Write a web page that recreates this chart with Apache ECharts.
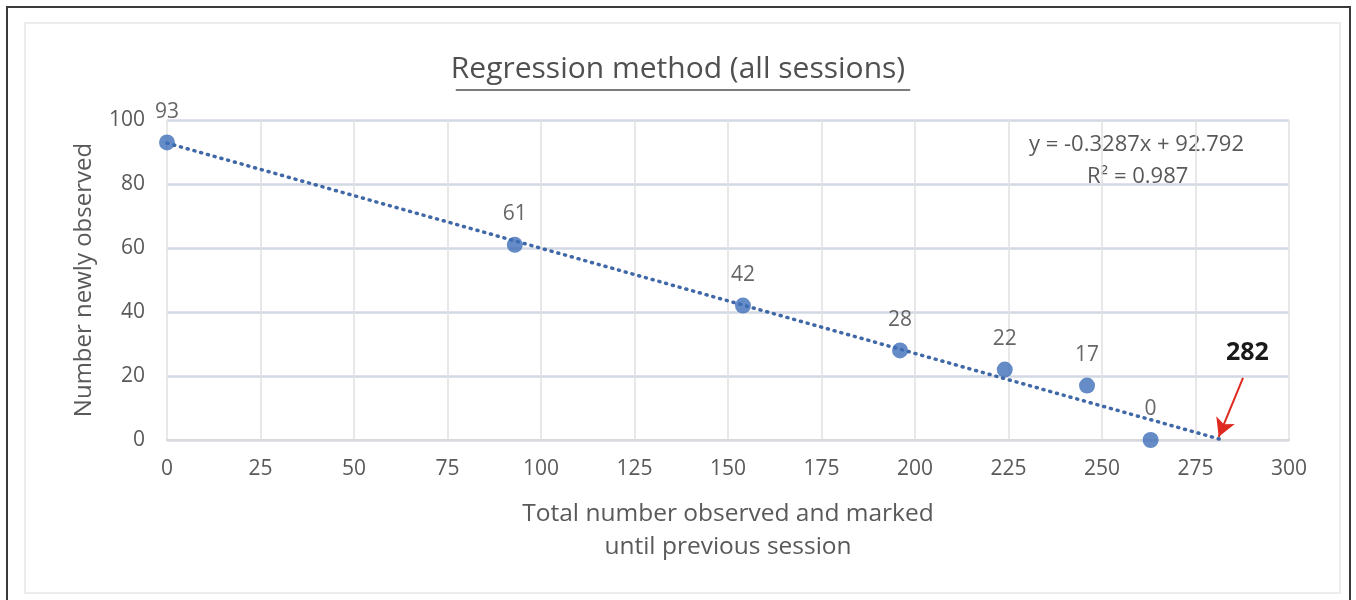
<!DOCTYPE html>
<html><head><meta charset="utf-8">
<script src="https://cdn.jsdelivr.net/npm/echarts@6/dist/echarts.min.js"></script>
<style>
html,body{margin:0;padding:0;background:#fff;width:1356px;height:600px;overflow:hidden;position:relative}
#outer{position:absolute;left:6px;top:6px;width:1345px;height:620px;border:2px solid #3a3a3a;box-sizing:border-box}
#inner{position:absolute;left:24px;top:22px;width:1317px;height:572px;border:2px solid #ececec;box-sizing:border-box}
#chart{position:absolute;left:0;top:0;width:1356px;height:600px}
</style></head>
<body>
<div id="outer"></div><div id="inner"></div>
<div id="chart"></div>
<script>
const xValues = [0, 93, 154, 196, 224, 246, 263];
const yValues = [93, 61, 42, 28, 22, 17, 0];
const trendX = [0, 282];
const trendY = [92.792, 0.1];
const arrowFrom = [287.7, 19.4];
const arrowTo = [281.2, 1.0];
const titleText = 'Regression method (all sessions)';
const eqLines = ['y = -0.3287x + 92.792', 'R² = 0.987'];
const interceptLabel = '282';

const chart = echarts.init(document.getElementById('chart'), null, {renderer:'canvas'});
const FONT = "'Open Sans', 'Noto Sans', sans-serif";
const grey = '#595959';
const TITLE_SIZE = 30;
const ctx = document.createElement('canvas').getContext('2d');
ctx.font = TITLE_SIZE + "px 'Open Sans', 'Noto Sans', sans-serif";
const tw = ctx.measureText(titleText).width;

chart.setOption({
  backgroundColor: 'transparent',
  animation: false,
  title: {
    text: titleText, left: 'center', top: 49,
    textStyle: {fontFamily: FONT, fontSize: TITLE_SIZE, fontWeight: 'normal', color: '#505050'}
  },
  grid: {left: 167, right: 67, top: 120, bottom: 160},
  xAxis: {
    type: 'value', min: 0, max: 300, interval: 25,
    name: 'Total number observed and marked\nuntil previous session',
    nameLocation: 'middle', nameGap: 58,
    nameTextStyle: {fontFamily: FONT, fontSize: 24.5, color: grey, lineHeight: 33},
    axisLine: {show: true, lineStyle: {color: '#d9d9d9', width: 2}},
    axisTick: {show: false},
    axisLabel: {fontFamily: FONT, fontSize: 21, color: grey, margin: 19},
    splitLine: {show: true, lineStyle: {color: '#e1e1e1', width: 1.5}}
  },
  yAxis: {
    type: 'value', min: 0, max: 100, interval: 20,
    name: 'Number newly observed', nameLocation: 'middle', nameGap: 71,
    nameTextStyle: {fontFamily: FONT, fontSize: 24, color: grey},
    axisLine: {show: false}, axisTick: {show: false},
    axisLabel: {fontFamily: FONT, fontSize: 21, color: grey, margin: 22},
    splitLine: {show: true, lineStyle: {color: '#d3d9e4', width: 2.5}}
  },
  series: [
    {
      type: 'line', data: trendX.map((x, i) => [x, trendY[i]]),
      symbol: 'none', z: 2,
      lineStyle: {type: [1, 6], width: 3.5, color: '#4068a6', cap: 'round'},
      markLine: {
        silent: true, symbol: ['none', 'arrow'], symbolSize: [15, 18],
        lineStyle: {type: 'solid', color: '#de2a20', width: 2},
        label: {show: false},
        data: [[{coord: arrowFrom}, {coord: arrowTo}]]
      }
    },
    {
      type: 'scatter', data: xValues.map((x, i) => [x, yValues[i]]),
      symbol: 'circle', symbolSize: 16, z: 3,
      itemStyle: {color: '#3e6fb8'},
      label: {show: true, position: 'top', distance: 12,
        fontFamily: FONT, fontSize: 21, color: '#404040',
        formatter: p => p.value[1]}
    }
  ],
  graphic: [
    {type: 'text', left: 1029, top: 134, style: {text: eqLines[0], font: "22px 'Open Sans', sans-serif", fill: grey}},
    {type: 'text', left: 1087, top: 166, style: {text: eqLines[1], font: "22px 'Open Sans', sans-serif", fill: grey}},
    {type: 'text', left: 1226, top: 340, style: {text: interceptLabel, font: "bold 25px 'Open Sans', sans-serif", fill: '#1a1a1a'}},
    {type: 'line', shape: {x1: 683 - tw/2, y1: 90, x2: 683 + tw/2, y2: 90}, style: {stroke: '#505050', lineWidth: 1.5}}
  ]
});
</script>
</body></html>
